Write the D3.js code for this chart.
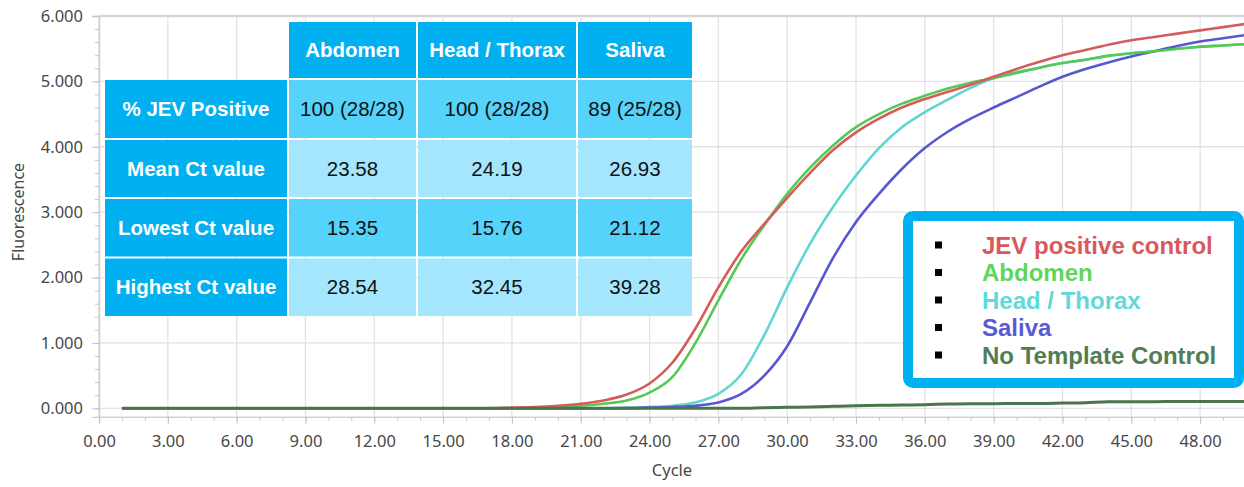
<!DOCTYPE html>
<html><head><meta charset="utf-8">
<script src="https://cdn.jsdelivr.net/npm/d3@7"></script>
<style>
html,body{margin:0;padding:0;background:#fff;}
svg{display:block;}
</style></head><body>
<svg id="chart" width="1244" height="487"></svg>
<script>
// ---------- data ----------
const cycles = [1,2,3,4,5,6,7,8,9,10,11,12,13,14,15,16,17,18,19,20,21,22,23,24,25,26,27,28,29,30,31,32,33,34,35,36,37,38,39,40,41,42,43,44,45,46,47,48,49,50];
const jevControl = [0,0,0,0,0,0,0,0,0,0,0,0,0,0,0,0,0,
  0.01,0.02,0.04,0.07,0.12,0.21,0.38,0.70,1.22,1.85,2.40,2.82,3.22,3.60,3.95,4.22,4.43,4.60,4.73,4.84,4.95,5.07,5.19,5.30,5.40,5.48,5.56,5.63,5.68,5.73,5.78,5.83,5.88];
const abdomen = [0,0,0,0,0,0,0,0,0,0,0,0,0,0,0,0,0,0,
  0.01,0.02,0.04,0.07,0.12,0.24,0.48,1.00,1.65,2.28,2.80,3.28,3.68,4.02,4.30,4.50,4.66,4.78,4.89,4.98,5.05,5.13,5.21,5.28,5.33,5.39,5.43,5.46,5.50,5.53,5.55,5.57];
const headThorax = [0,0,0,0,0,0,0,0,0,0,0,0,0,0,0,0,0,0,0,0,0,0,
  0.01,0.02,0.04,0.09,0.22,0.52,1.12,1.85,2.52,3.08,3.56,3.98,4.30,4.53,4.72,4.90,5.05,5.14,5.21,5.28,5.33,5.39,5.43,5.46,5.50,5.53,5.55,5.57];
const saliva = [0,0,0,0,0,0,0,0,0,0,0,0,0,0,0,0,0,0,0,0,0,0,0,
  0.01,0.02,0.04,0.09,0.22,0.50,0.95,1.62,2.30,2.85,3.28,3.66,3.98,4.23,4.43,4.60,4.76,4.92,5.07,5.19,5.29,5.38,5.46,5.54,5.61,5.66,5.71];
const noTemplate = [0,0,0,0,0,0,0,0,0,0,0,0,0,0,0,0,0,0,0,0,0,0,0,0,0,0,0,0,
  0.01,0.015,0.02,0.03,0.04,0.045,0.05,0.055,0.065,0.07,0.07,0.075,0.075,0.08,0.085,0.10,0.10,0.10,0.105,0.105,0.105,0.105];

const xTicks = [0,3,6,9,12,15,18,21,24,27,30,33,36,39,42,45,48];
const xTickLabels = ["0.00","3.00","6.00","9.00","12.00","15.00","18.00","21.00","24.00","27.00","30.00","33.00","36.00","39.00","42.00","45.00","48.00"];
const yTicks = [0,1,2,3,4,5,6];
const yTickLabels = ["0.000","1.000","2.000","3.000","4.000","5.000","6.000"];

const seriesNames = ["JEV positive control","Abdomen","Head / Thorax","Saliva","No Template Control"];
const lineColors = ["#d65c5c","#55c955","#5fd6d0","#5757d2","#4b744b"];
const legendColors = ["#d9585b","#5fd55a","#5fd9da","#5a5ad6","#527d53"];

const tableColumns = ["Abdomen","Head / Thorax","Saliva"];
const tableRows = ["% JEV Positive","Mean Ct value","Lowest Ct value","Highest Ct value"];
const tableValues = [
  ["100 (28/28)","100 (28/28)","89 (25/28)"],
  ["23.58","24.19","26.93"],
  ["15.35","15.76","21.12"],
  ["28.54","32.45","39.28"]
];

// ---------- scales ----------
const svg = d3.select("#chart");
const x = d3.scaleLinear().domain([0,50]).range([99,1246]);
const y = d3.scaleLinear().domain([-0.13,6]).range([416.8,16]);
const plotTop = y(6), plotBottom = y(-0.13), plotLeft = x(0), plotRight = 1246;

// grid
const grid = svg.append("g");
grid.selectAll("line.v").data(xTicks).join("line")
  .attr("x1",d=>x(d)).attr("x2",d=>x(d)).attr("y1",plotTop).attr("y2",plotBottom)
  .attr("stroke","#e2e2e2").attr("stroke-width",1.3);
grid.selectAll("line.h").data(yTicks).join("line")
  .attr("x1",plotLeft).attr("x2",plotRight).attr("y1",d=>y(d)).attr("y2",d=>y(d))
  .attr("stroke","#e2e2e2").attr("stroke-width",1.3);
grid.append("line").attr("x1",plotLeft).attr("x2",plotRight).attr("y1",plotTop).attr("y2",plotTop)
  .attr("stroke","#d6d6d6").attr("stroke-width",2.5);

// axes
const fontFam = "'Noto Sans', 'Open Sans', sans-serif";
const xMinor = d3.range(0,51,1);
const yMinor = d3.range(0,6.01,0.2);
const xAxisMinor = svg.append("g").attr("transform",`translate(0,${plotBottom})`)
  .call(d3.axisBottom(x).tickValues(xMinor).tickSize(4).tickFormat(""));
const xAxis = svg.append("g").attr("transform",`translate(0,${plotBottom})`)
  .call(d3.axisBottom(x).tickValues(xTicks).tickSize(7).tickPadding(11).tickFormat((d,i)=>xTickLabels[i]));
const yAxisMinor = svg.append("g").attr("transform",`translate(${plotLeft},0)`)
  .call(d3.axisLeft(y).tickValues(yMinor).tickSize(4).tickFormat(""));
const yAxis = svg.append("g").attr("transform",`translate(${plotLeft},0)`)
  .call(d3.axisLeft(y).tickValues(yTicks).tickSize(7).tickPadding(9).tickFormat((d,i)=>yTickLabels[i]));
[xAxisMinor,xAxis,yAxisMinor,yAxis].forEach(g=>{
  g.select(".domain").attr("stroke","#cfcfcf").attr("stroke-width",1.3);
  g.selectAll(".tick line").attr("stroke","#c4c4c4");
  g.selectAll(".tick text").attr("fill","#474747").style("font-family",fontFam).style("font-size","16.5px");
});

svg.append("text").attr("x",672).attr("y",476).attr("text-anchor","middle")
  .style("font-family",fontFam).style("font-size","16.5px").attr("fill","#474747").text("Cycle");
svg.append("text").attr("transform","translate(24,212) rotate(-90)").attr("text-anchor","middle")
  .style("font-family",fontFam).style("font-size","16px").attr("fill","#474747").text("Fluorescence");

// curves
const seriesData = [jevControl, abdomen, headThorax, saliva, noTemplate];
const drawOrder = [2,3,1,0,4];
const line = d3.line().x(d=>x(d[0])).y(d=>y(d[1])).curve(d3.curveMonotoneX);
const curves = svg.append("g");
drawOrder.forEach(i=>{
  curves.append("path")
    .datum(cycles.map((c,k)=>[c, seriesData[i][k]]))
    .attr("fill","none").attr("stroke",lineColors[i])
    .attr("stroke-width", i===4 ? 3 : 2.6)
    .attr("stroke-linejoin","round")
    .attr("d", line);
});

// table
const colX = [104,288,417,577,693];
const rowY = [21,79,139,198,257.5,317];
const tFont = "'Liberation Sans', Arial, sans-serif";
const tbl = svg.append("g");
const headerBlue = "#00b0f0";
const rowFill = ["#56d3fb","#a3e6fd","#56d3fb","#a3e6fd"];
tableColumns.forEach((c,j)=>{
  const x0 = colX[j+1], x1 = colX[j+2];
  tbl.append("rect").attr("x",x0+1).attr("y",rowY[0]+1).attr("width",x1-x0-2).attr("height",rowY[1]-rowY[0]-2).attr("fill",headerBlue);
  tbl.append("text").attr("x",(x0+x1)/2).attr("y",(rowY[0]+rowY[1])/2+7).attr("text-anchor","middle")
    .style("font-family",tFont).style("font-size","20.5px").style("font-weight","bold").attr("fill","#fff").text(c);
});
tableRows.forEach((r,i)=>{
  const y0 = rowY[i+1], y1 = rowY[i+2];
  tbl.append("rect").attr("x",colX[0]+1).attr("y",y0+1).attr("width",colX[1]-colX[0]-2).attr("height",y1-y0-2).attr("fill",headerBlue);
  tbl.append("text").attr("x",(colX[0]+colX[1])/2).attr("y",(y0+y1)/2+7).attr("text-anchor","middle")
    .style("font-family",tFont).style("font-size","20.5px").style("font-weight","bold").attr("fill","#fff").text(r);
  tableValues[i].forEach((v,j)=>{
    const x0 = colX[j+1], x1 = colX[j+2];
    tbl.append("rect").attr("x",x0+1).attr("y",y0+1).attr("width",x1-x0-2).attr("height",y1-y0-2).attr("fill",rowFill[i]);
    tbl.append("text").attr("x",(x0+x1)/2).attr("y",(y0+y1)/2+7).attr("text-anchor","middle")
      .style("font-family",tFont).style("font-size","20.5px").attr("fill","#111").text(v);
  });
});

// legend
const lg = svg.append("g");
lg.append("rect").attr("x",908).attr("y",216).attr("width",331).attr("height",167).attr("rx",5)
  .attr("fill","#fff").attr("stroke","#00b0f0").attr("stroke-width",10);
seriesNames.forEach((n,i)=>{
  const cy = 245 + i*27.5;
  lg.append("rect").attr("x",935).attr("y",cy-3.5).attr("width",7).attr("height",7).attr("fill","#000");
  lg.append("text").attr("x",982).attr("y",cy+8.5)
    .style("font-family",tFont).style("font-size","24px").style("font-weight","bold")
    .attr("fill",legendColors[i]).text(n);
});
</script>
</body></html>
